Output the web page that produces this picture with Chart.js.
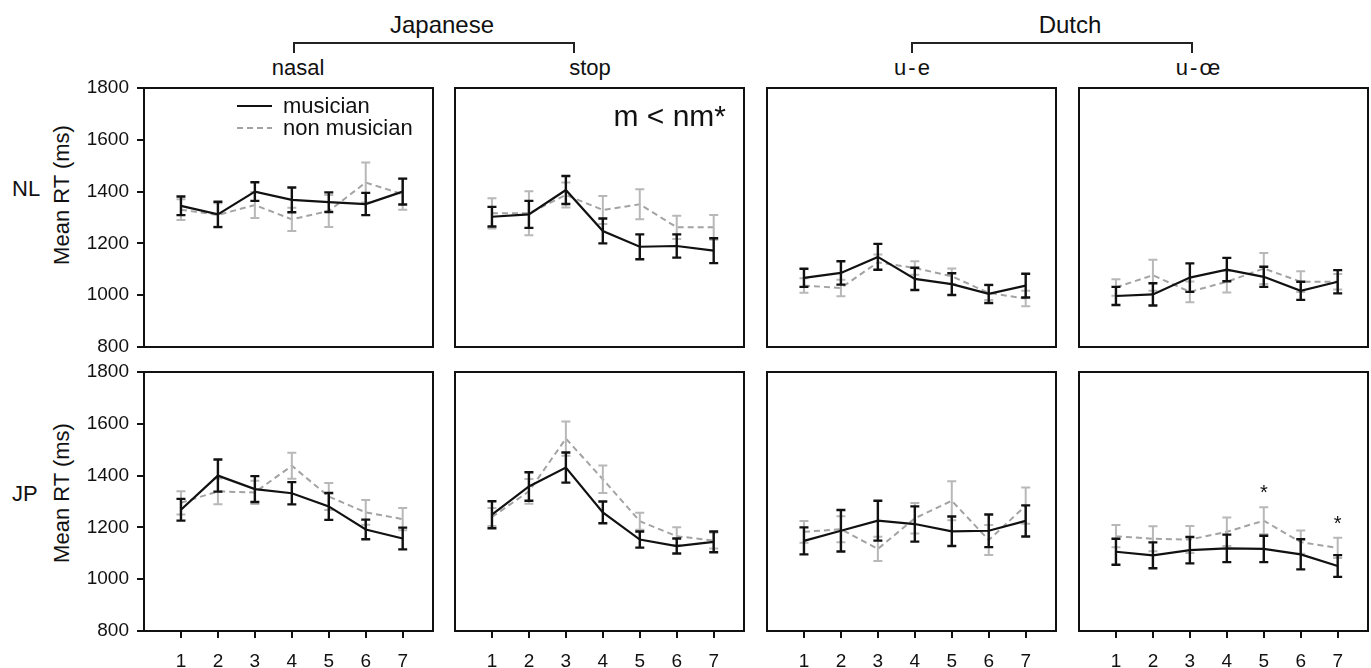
<!DOCTYPE html>
<html lang="en">
<head>
<meta charset="UTF-8">
<title>Mean RT per step</title>
<script src="https://cdn.jsdelivr.net/npm/chart.js"></script>
<style>
  body { margin: 0; background: #fff; }
  #figura { position: relative; width: 1371px; height: 668px; overflow: hidden;
            font-family: "Liberation Sans", Arial, sans-serif; color: #111; }
  .painel { position: absolute; }
  .rotulo { position: absolute; line-height: 1; white-space: nowrap; }
  .centro { transform: translateX(-50%); }
  .chave { position: absolute; box-sizing: border-box; border: 2px solid #222; border-bottom: none; }
  .eixoY { position: absolute; line-height: 1; white-space: nowrap; font-size: 22px;
           transform: translate(-50%, -50%) rotate(-90deg); }
</style>
</head>
<body>
<div id="figura">
  <div class="rotulo centro" style="left:442px; top:13px; font-size:24px;">Japanese</div>
  <div class="chave" style="left:293px; top:42px; width:282px; height:11px;"></div>
  <div class="rotulo centro" style="left:1070px; top:13px; font-size:24px;">Dutch</div>
  <div class="chave" style="left:911px; top:42px; width:282px; height:11px;"></div>

  <div class="rotulo centro" style="left:298px; top:57px; font-size:22px;">nasal</div>
  <div class="rotulo centro" style="left:590px; top:57px; font-size:22px;">stop</div>
  <div class="rotulo centro" style="left:913px; top:57px; font-size:22px; letter-spacing:2px;">u-e</div>
  <div class="rotulo centro" style="left:1199px; top:57px; font-size:22px; letter-spacing:2px;">u-œ</div>

  <div class="rotulo" style="left:12px; top:178px; font-size:22px;">NL</div>
  <div class="rotulo" style="left:12px; top:483px; font-size:22px;">JP</div>
  <div class="eixoY" style="left:62px; top:195px;">Mean RT (ms)</div>
  <div class="eixoY" style="left:62px; top:493px;">Mean RT (ms)</div>
</div>

<script>
// steps on the continuum
const steps = [1, 2, 3, 4, 5, 6, 7];
const yTicks = [800, 1000, 1200, 1400, 1600, 1800];

// NL listeners, Japanese nasal
const nlNasalMus = [1345, 1312, 1400, 1368, 1359, 1352, 1400];
const nlNasalMusErr = [36, 49, 36, 48, 38, 43, 50];
const nlNasalNon = [1330, 1310, 1348, 1293, 1325, 1435, 1390];
const nlNasalNonErr = [40, 45, 50, 45, 62, 77, 60];

// NL listeners, Japanese stop
const nlStopMus = [1303, 1312, 1406, 1248, 1187, 1190, 1172];
const nlStopMusErr = [38, 52, 54, 48, 48, 45, 48];
const nlStopNon = [1316, 1316, 1387, 1329, 1351, 1262, 1262];
const nlStopNonErr = [58, 85, 48, 54, 58, 45, 48];

// NL listeners, Dutch u-e
const nlUeMus = [1067, 1086, 1148, 1063, 1043, 1005, 1037];
const nlUeMusErr = [35, 45, 50, 43, 42, 35, 46];
const nlUeNon = [1037, 1028, 1127, 1105, 1073, 1009, 987];
const nlUeNonErr = [28, 32, 30, 26, 30, 28, 30];

// NL listeners, Dutch u-oe
const nlUoeMus = [997, 1003, 1068, 1099, 1071, 1017, 1052];
const nlUoeMusErr = [35, 43, 55, 45, 39, 35, 45];
const nlUoeNon = [1030, 1077, 1013, 1052, 1103, 1052, 1052];
const nlUoeNonErr = [32, 60, 40, 42, 60, 40, 30];

// JP listeners, Japanese nasal
const jpNasalMus = [1268, 1400, 1348, 1332, 1281, 1192, 1157];
const jpNasalMusErr = [42, 62, 50, 43, 52, 38, 42];
const jpNasalNon = [1295, 1339, 1335, 1438, 1319, 1258, 1232];
const jpNasalNonErr = [45, 50, 45, 50, 52, 48, 43];

// JP listeners, Japanese stop
const jpStopMus = [1249, 1358, 1431, 1258, 1153, 1128, 1144];
const jpStopMusErr = [52, 55, 58, 42, 31, 29, 40];
const jpStopNon = [1240, 1339, 1543, 1386, 1224, 1166, 1149];
const jpStopNonErr = [35, 48, 66, 53, 33, 35, 30];

// JP listeners, Dutch u-e
const jpUeMus = [1148, 1187, 1226, 1213, 1185, 1187, 1225];
const jpUeMusErr = [52, 80, 77, 68, 57, 63, 60];
const jpUeNon = [1183, 1193, 1117, 1235, 1303, 1151, 1284];
const jpUeNonErr = [42, 50, 47, 59, 75, 58, 70];

// JP listeners, Dutch u-oe
const jpUoeMus = [1106, 1092, 1112, 1119, 1117, 1096, 1051];
const jpUoeMusErr = [50, 50, 51, 53, 51, 58, 42];
const jpUoeNon = [1166, 1156, 1153, 1183, 1226, 1143, 1121];
const jpUoeNonErr = [43, 48, 52, 55, 52, 45, 39];

// significance marks (JP, u-oe)
const starSteps = [5, 7];
const starValues = [1350, 1230];

const panels = [
  { row: 0, col: 0, mus: nlNasalMus, musErr: nlNasalMusErr, non: nlNasalNon, nonErr: nlNasalNonErr, legend: true },
  { row: 0, col: 1, mus: nlStopMus, musErr: nlStopMusErr, non: nlStopNon, nonErr: nlStopNonErr, note: 'm < nm*' },
  { row: 0, col: 2, mus: nlUeMus, musErr: nlUeMusErr, non: nlUeNon, nonErr: nlUeNonErr },
  { row: 0, col: 3, mus: nlUoeMus, musErr: nlUoeMusErr, non: nlUoeNon, nonErr: nlUoeNonErr },
  { row: 1, col: 0, mus: jpNasalMus, musErr: jpNasalMusErr, non: jpNasalNon, nonErr: jpNasalNonErr },
  { row: 1, col: 1, mus: jpStopMus, musErr: jpStopMusErr, non: jpStopNon, nonErr: jpStopNonErr },
  { row: 1, col: 2, mus: jpUeMus, musErr: jpUeMusErr, non: jpUeNon, nonErr: jpUeNonErr },
  { row: 1, col: 3, mus: jpUoeMus, musErr: jpUoeMusErr, non: jpUoeNon, nonErr: jpUoeNonErr, stars: true }
];

const colLeft = [144, 455, 767, 1079];
const rowTop = [88, 372];
const largura = 289, altura = 259, margem = 14;

Chart.defaults.font.family = '"Liberation Sans", Arial, sans-serif';
Chart.defaults.color = '#111';

function toPoints(values) {
  return values.map((v, i) => ({ x: steps[i], y: v }));
}

// error bars drawn right after each line so the black series stays on top
const errorBars = {
  id: 'errorBars',
  afterDatasetDraw(chart, args) {
    const ds = chart.data.datasets[args.index];
    if (!ds.errors) return;
    const y = chart.scales.y;
    const ctx = chart.ctx;
    const cap = 4.5;
    ctx.save();
    ctx.strokeStyle = ds.barColor;
    ctx.lineWidth = ds.barWidth;
    args.meta.data.forEach((pt, i) => {
      const v = ds.data[i].y;
      const top = y.getPixelForValue(v + ds.errors[i]);
      const bot = y.getPixelForValue(v - ds.errors[i]);
      ctx.beginPath();
      ctx.moveTo(pt.x, top); ctx.lineTo(pt.x, bot);
      ctx.moveTo(pt.x - cap, top); ctx.lineTo(pt.x + cap, top);
      ctx.moveTo(pt.x - cap, bot); ctx.lineTo(pt.x + cap, bot);
      ctx.stroke();
    });
    ctx.restore();
  }
};

const frame = {
  id: 'frame',
  beforeDatasetsDraw(chart) {
    const a = chart.chartArea;
    const ctx = chart.ctx;
    ctx.save();
    ctx.strokeStyle = '#111';
    ctx.lineWidth = 2;
    ctx.strokeRect(a.left, a.top, a.right - a.left, a.bottom - a.top);
    ctx.restore();
  }
};

const extras = {
  id: 'extras',
  afterDraw(chart, args, opts) {
    const a = chart.chartArea;
    const ctx = chart.ctx;
    ctx.save();
    if (opts.legend) {
      ctx.font = '22px "Liberation Sans", Arial, sans-serif';
      ctx.textBaseline = 'alphabetic';
      chart.data.datasets.forEach((ds, i) => {
        const ly = a.top + 18 + i * 22;
        ctx.strokeStyle = ds.borderColor;
        ctx.lineWidth = ds.borderWidth;
        ctx.setLineDash(ds.borderDash || []);
        ctx.beginPath();
        ctx.moveTo(a.left + 93, ly);
        ctx.lineTo(a.left + 128, ly);
        ctx.stroke();
        ctx.setLineDash([]);
        ctx.fillStyle = '#111';
        ctx.fillText(ds.label, a.left + 139, ly + 7);
      });
    }
    if (opts.note) {
      ctx.font = '30px "Liberation Sans", Arial, sans-serif';
      ctx.textAlign = 'right';
      ctx.textBaseline = 'alphabetic';
      ctx.fillStyle = '#111';
      ctx.fillText(opts.note, a.right - 18, a.top + 38);
    }
    if (opts.stars) {
      const x = chart.scales.x, y = chart.scales.y;
      ctx.font = '20px "Liberation Sans", Arial, sans-serif';
      ctx.textAlign = 'center';
      ctx.textBaseline = 'middle';
      ctx.fillStyle = '#111';
      starSteps.forEach((s, i) => {
        ctx.fillText('*', x.getPixelForValue(s), y.getPixelForValue(starValues[i]) + 4.6);
      });
    }
    ctx.restore();
  }
};

function makePanel(p) {
  const primeira = p.col === 0;
  const baixo = p.row === 1;
  const padLeft = primeira ? 0 : 8;
  const eixoX = baixo ? 37 : 0;
  const left = primeira ? 0 : colLeft[p.col] - padLeft;
  const width = primeira ? colLeft[0] + largura + 8 : largura + 16;
  const top = rowTop[p.row] - margem;
  const height = margem + altura + (baixo ? eixoX : margem);

  const wrap = document.createElement('div');
  wrap.className = 'painel';
  wrap.style.left = left + 'px';
  wrap.style.top = top + 'px';
  wrap.style.width = width + 'px';
  wrap.style.height = height + 'px';
  const canvas = document.createElement('canvas');
  wrap.appendChild(canvas);
  document.getElementById('figura').appendChild(wrap);

  const tickGrid = { drawOnChartArea: false, drawTicks: true, tickLength: 7, color: '#111', lineWidth: 2 };

  new Chart(canvas, {
    type: 'line',
    data: {
      datasets: [
        { label: 'musician', data: toPoints(p.mus), errors: p.musErr, order: 0,
          borderColor: '#111', borderWidth: 2.2, pointRadius: 0, tension: 0,
          barColor: '#111', barWidth: 2.4 },
        { label: 'non musician', data: toPoints(p.non), errors: p.nonErr, order: 1,
          borderColor: '#a3a3a3', borderWidth: 2, borderDash: [6, 4], pointRadius: 0, tension: 0,
          barColor: '#b8b8b8', barWidth: 2 }
      ]
    },
    options: {
      responsive: true,
      maintainAspectRatio: false,
      animation: false,
      events: [],
      layout: { padding: { left: padLeft, right: 8, top: margem, bottom: baixo ? 0 : margem } },
      scales: {
        x: {
          type: 'linear', min: 0, max: 7.82,
          display: baixo,
          grid: tickGrid,
          border: { display: false },
          ticks: { stepSize: 1, includeBounds: false, padding: 12, font: { size: 19 }, callback: v => String(v) },
          afterBuildTicks: s => { s.ticks = steps.map(v => ({ value: v })); },
          afterFit: s => {
            if (baixo) s.height = eixoX;
            s.paddingLeft = 0; s.paddingRight = 0;
          }
        },
        y: {
          min: 800, max: 1800,
          display: primeira,
          grid: tickGrid,
          border: { display: false },
          ticks: { stepSize: 200, padding: 8, font: { size: 19 }, callback: v => String(v) },
          afterBuildTicks: s => { s.ticks = yTicks.map(v => ({ value: v })); },
          afterFit: s => {
            if (primeira) s.width = colLeft[0];
            s.paddingTop = 0; s.paddingBottom = 0;
          }
        }
      },
      plugins: {
        legend: { display: false },
        tooltip: { enabled: false },
        extras: { legend: !!p.legend, note: p.note || null, stars: !!p.stars }
      }
    },
    plugins: [frame, errorBars, extras]
  });
}

panels.forEach(makePanel);
</script>
</body>
</html>
